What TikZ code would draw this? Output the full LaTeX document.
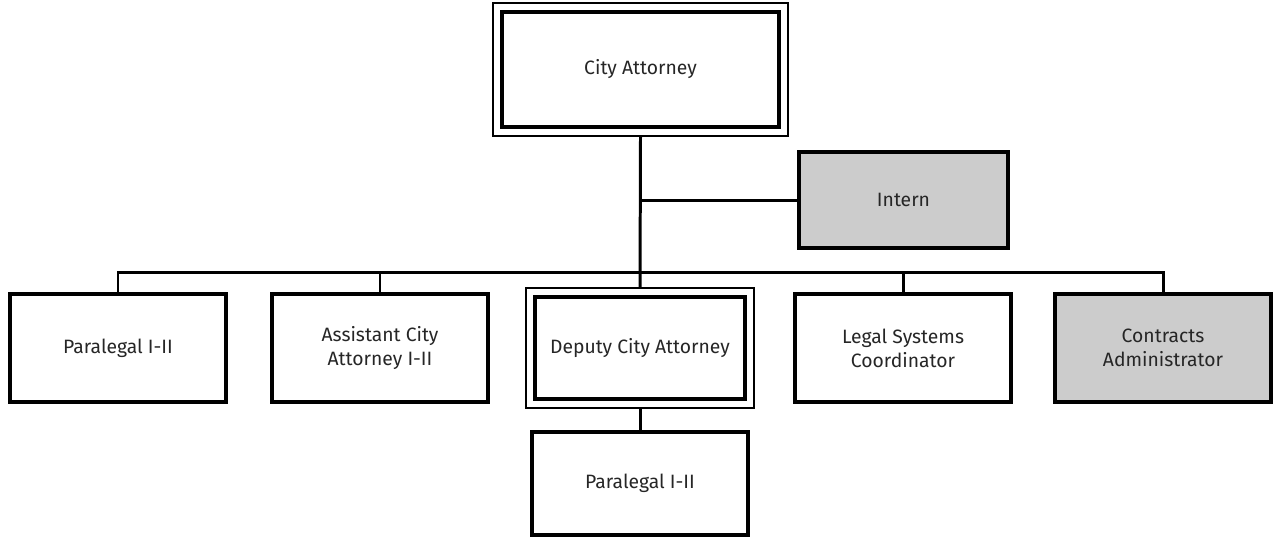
\documentclass[tikz,border=0pt]{standalone}
\usepackage{fontspec}
\setmainfont{Fira Sans}
\usetikzlibrary{positioning,fit}

\tikzset{
  post/.style={draw=black, line width=2pt, fill=white, align=center,
    text=black!85, minimum width=4.32cm, minimum height=2.16cm,
    inner sep=0pt, font=\fontsize{11}{13.5}\selectfont},
  extra/.style={post, fill=black!20},
  frame/.style={draw=black, line width=1.1pt, inner sep=0.14cm},
  link/.style={draw=black, line width=1.7pt}
}

\begin{document}
\begin{tikzpicture}[x=0.02cm, y=-0.02cm]
  \useasboundingbox (0,0) rectangle (1274,539);

  % head of office
  \node[post, minimum width=5.54cm, minimum height=2.3cm] (ca) at (640.5,69.5) {City Attorney};
  \node[frame, fit=(ca)] (caf) {};
  \node[extra, minimum width=4.18cm, minimum height=1.92cm] (intern) at (903.5,200) {Intern};

  % second row
  \coordinate (bus) at (640,272);
  \node[post] (para) at (118,348) {Paralegal I-II};
  \node[post] (aca) at (380,348) {Assistant City\\Attorney I-II};
  \node[post, minimum width=4.2cm, minimum height=2.04cm] (dca) at (640,348) {Deputy City Attorney};
  \node[frame, fit=(dca)] (dcaf) {};
  \node[post] (lsc) at (903,348) {Legal Systems\\Coordinator};
  \node[extra] (contr) at (1163,348) {Contracts\\Administrator};

  % under deputy
  \node[post, minimum height=2.06cm] (para2) at (640,483.5) {Paralegal I-II};

  % lines
  \draw[link] (caf.south) -- (dcaf.north);
  \draw[link] (intern.west) -- (intern.west -| caf.south);
  \draw[link] (para.north) |- (bus) -| (contr.north);
  \draw[link] (aca.north) -- (aca.north |- bus);
  \draw[link] (lsc.north) -- (lsc.north |- bus);
  \draw[link] (dcaf.south) -- (para2.north);
\end{tikzpicture}
\end{document}
